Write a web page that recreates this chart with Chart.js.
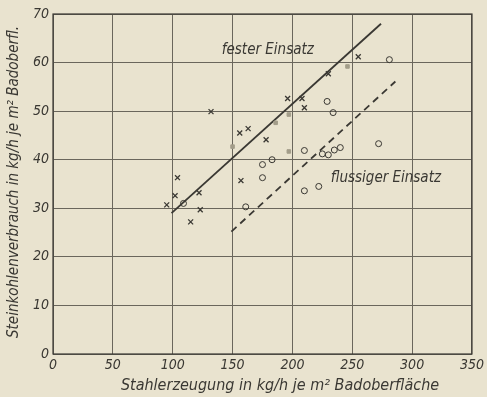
<!DOCTYPE html>
<html>
<head>
<meta charset="utf-8">
<script src="https://cdn.jsdelivr.net/npm/chart.js@4/dist/chart.umd.min.js"></script>
<style>
  html, body { margin: 0; padding: 0; background: #e9e3cf; }
  #wrap { width: 487px; height: 397px; }
</style>
</head>
<body>
<div id="wrap"><canvas id="chart" width="487" height="397"></canvas></div>
<script>
// Messpunkte
const festX = [95, 102, 104, 115, 122, 123, 132, 156, 157, 163, 178, 196, 208, 210, 230, 255];
const festY = [30.7, 32.6, 36.3, 27.2, 33.2, 29.7, 49.9, 45.5, 35.7, 46.4, 44.1, 52.6, 52.6, 50.7, 57.7, 61.2];

const grauX = [150, 186, 197, 197, 246];
const grauY = [42.7, 47.6, 49.3, 41.7, 59.2];

const fluessigX = [109, 161, 175, 175, 183, 210, 210, 222, 225, 230, 235, 240, 229, 234, 272, 281];
const fluessigY = [31, 30.3, 36.3, 39, 40, 41.9, 33.6, 34.5, 41.2, 41, 42, 42.5, 52, 49.7, 43.3, 60.6];

// Ausgleichsgeraden (Endpunkte)
const festLineX = [99, 274];
const festLineY = [29, 68];
const fluessigLineX = [149, 286];
const fluessigLineY = [25.2, 56.1];

const xTicks = [0, 50, 100, 150, 200, 250, 300, 350];
const yTicks = [0, 10, 20, 30, 40, 50, 60, 70];

const ink = '#3a3833';
const tickFont = { family: 'DejaVu Sans Condensed', size: 14, style: 'italic' };

function pts(xs, ys) {
  return xs.map((x, i) => ({ x: x, y: ys[i] }));
}

const annotPlugin = {
  id: 'annot',
  beforeDraw(chart) {
    const c = chart.ctx;
    c.save();
    c.fillStyle = '#e9e3cf';
    c.fillRect(0, 0, chart.width, chart.height);
    c.restore();
  },
  afterDraw(chart) {
    const c = chart.ctx;
    const xs = chart.scales.x, ys = chart.scales.y;
    const a = chart.chartArea;
    c.save();
    c.fillStyle = ink;
    c.font = 'italic 15px "DejaVu Sans Condensed"';
    c.textBaseline = 'middle';
    c.textAlign = 'left';
    c.fillText('fester Einsatz', xs.getPixelForValue(141), ys.getPixelForValue(62.5));
    c.fillText('flussiger Einsatz', xs.getPixelForValue(232), ys.getPixelForValue(36.3));
    // Achsentitel
    c.textAlign = 'center';
    c.font = 'italic 16px "DejaVu Sans Condensed"';
    c.fillText('Stahlerzeugung in kg/h je m\u00b2 Badoberfläche', 280, 386);
    c.font = 'italic 15px "DejaVu Sans Condensed"';
    c.translate(14, 182);
    c.rotate(-Math.PI / 2);
    c.fillText('Steinkohlenverbrauch in kg/h je m\u00b2 Badoberfl.', 0, 0);
    c.restore();
    // Rahmen
    c.save();
    c.strokeStyle = ink;
    c.lineWidth = 1.2;
    c.strokeRect(a.left, a.top, a.right - a.left, a.bottom - a.top);
    c.restore();
  }
};

new Chart(document.getElementById('chart'), {
  type: 'scatter',
  data: {
    datasets: [
      {
        label: 'fester Einsatz',
        data: pts(festX, festY),
        pointStyle: 'crossRot',
        pointRadius: 3.5,
        borderColor: ink,
        borderWidth: 1.3
      },
      {
        label: 'grau',
        data: pts(grauX, grauY),
        pointStyle: 'rect',
        pointRadius: 2.5,
        backgroundColor: '#a39d8a',
        borderColor: '#a39d8a',
        borderWidth: 1
      },
      {
        label: 'flussiger Einsatz',
        data: pts(fluessigX, fluessigY),
        pointStyle: 'circle',
        pointRadius: 3,
        backgroundColor: 'rgba(0,0,0,0)',
        borderColor: ink,
        borderWidth: 1
      },
      {
        type: 'line',
        label: 'fest Linie',
        data: pts(festLineX, festLineY),
        borderColor: ink,
        borderWidth: 1.8,
        pointRadius: 0,
        showLine: true
      },
      {
        type: 'line',
        label: 'flussig Linie',
        data: pts(fluessigLineX, fluessigLineY),
        borderColor: ink,
        borderWidth: 1.8,
        borderDash: [7, 5],
        pointRadius: 0,
        showLine: true
      }
    ]
  },
  options: {
    responsive: false,
    animation: false,
    layout: { padding: { top: 14, right: 15, left: 0, bottom: 0 } },
    plugins: {
      legend: { display: false },
      tooltip: { enabled: false }
    },
    scales: {
      x: {
        type: 'linear',
        min: 0,
        max: 350,
        afterFit: s => { s.height = 43; },
        afterBuildTicks: s => { s.ticks = xTicks.map(v => ({ value: v })); },
        grid: { color: '#6a665c', lineWidth: 1, drawTicks: false },
        border: { display: false },
        ticks: { color: ink, font: tickFont, padding: 3 }
      },
      y: {
        type: 'linear',
        min: 0,
        max: 70,
        afterFit: s => { s.width = 53; },
        afterBuildTicks: s => { s.ticks = yTicks.map(v => ({ value: v })); },
        grid: { color: '#6a665c', lineWidth: 1, drawTicks: false },
        border: { display: false },
        ticks: { color: ink, font: tickFont, padding: 4 }
      }
    }
  },
  plugins: [annotPlugin]
});
</script>
</body>
</html>
